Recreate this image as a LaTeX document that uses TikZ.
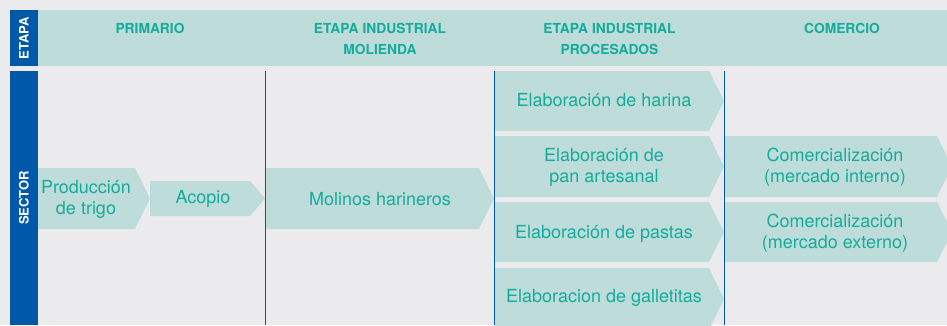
\documentclass[tikz,border=0pt]{standalone}
\usepackage{fontspec}
\setmainfont{TeX Gyre Heros}
\definecolor{bg}{HTML}{EBEBED}
\definecolor{boxfill}{HTML}{BEDCDA}
\definecolor{tealtxt}{HTML}{14AC9C}
\definecolor{darkblue}{HTML}{0058A9}
\newcommand{\chev}[4]{\fill[boxfill] (#1,#2) -- ({#3-15},#2) -- (#3,{(#2+#4)/2}) -- ({#3-15},#4) -- (#1,#4) -- cycle;}
\begin{document}
\begin{tikzpicture}[x=1pt,y=-1pt,
  hdr/.style={text=tealtxt,font=\fontsize{13.8}{20.5}\selectfont\bfseries,align=center,anchor=center},
  body/.style={text=tealtxt,font=\fontsize{18}{21}\selectfont,align=center,anchor=center},
  side/.style={text=white,font=\fontsize{13}{15}\selectfont\bfseries,rotate=90,anchor=center},
  vline/.style={draw=darkblue,line width=0.9pt}]
\useasboundingbox (0,0) rectangle (947,325);
\clip (0,0) rectangle (947,325);
\fill[bg] (0,0) rectangle (947,325);
% header band
\fill[boxfill] (10,10) rectangle (947,66);
\fill[darkblue] (10,10) rectangle (38,66);
\fill[darkblue] (10,71) rectangle (38,325);
\node[side] (etapa) at (24,38) {ETAPA};
\node[side] (sector) at (24,198) {SECTOR};
\node[hdr] (h1) at (150,28.5) {PRIMARIO};
\node[hdr] (h2) at (380,39) {ETAPA INDUSTRIAL\\MOLIENDA};
\node[hdr] (h3) at (609.5,39) {ETAPA INDUSTRIAL\\PROCESADOS};
\node[hdr] (h4) at (842,28.5) {COMERCIO};
% chevrons
\chev{38}{168}{150}{229}
\chev{150}{181}{265}{216}
\chev{266}{168}{494}{229}
\chev{495}{71}{724}{131}
\chev{495}{136}{724}{197}
\chev{495}{202}{724}{262}
\chev{495}{268}{724}{330}
\chev{725}{136}{952}{197}
\chev{725}{202}{952}{262}
% vertical lines
\draw[vline] (265,71) -- (265,325);
\draw[vline] (494,71) -- (494,325);
\draw[vline] (724,71) -- (724,325);
% texts
\node[body] (prod) at (86,199) {Producción\\de trigo};
\node[body] (acopio) at (203,199) {Acopio};
\node[body] (molinos) at (380,199) {Molinos harineros};
\node[body] (harina) at (604,100.5) {Elaboración de harina};
\node[body] (pan) at (604,167.5) {Elaboración de\\pan artesanal};
\node[body] (pastas) at (604,233.5) {Elaboración de pastas};
\node[body] (gall) at (604,298) {Elaboracion de galletitas};
\node[body] (cint) at (835,167.5) {Comercialización\\(mercado interno)};
\node[body] (cext) at (835,233) {Comercialización\\(mercado externo)};
\end{tikzpicture}
\end{document}
